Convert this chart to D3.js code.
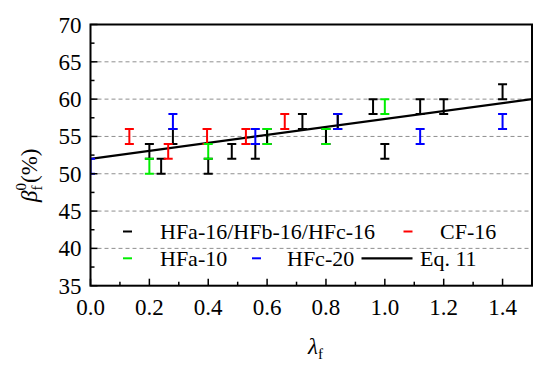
<!DOCTYPE html>
<html>
<head>
<meta charset="utf-8">
<script src="https://cdn.jsdelivr.net/npm/d3@7/dist/d3.min.js"></script>
<style>
  html, body { margin: 0; padding: 0; background: #fff; }
  svg { display: block; }
</style>
</head>
<body>
<svg id="chart" width="550" height="368"></svg>
<script>
// ---------- data ----------
const xTicks = [0.0, 0.2, 0.4, 0.6, 0.8, 1.0, 1.2, 1.4];
const xTickLabels = ["0.0", "0.2", "0.4", "0.6", "0.8", "1.0", "1.2", "1.4"];
const yTicks = [35, 40, 45, 50, 55, 60, 65, 70];
const yTickLabels = ["35", "40", "45", "50", "55", "60", "65", "70"];
const gridValues = [40, 45, 50, 55, 60, 65];

// HFa-16/HFb-16/HFc-16 (black)
const blackX    = [0.2, 0.24, 0.28, 0.4, 0.48, 0.56, 0.6, 0.72, 0.8, 0.84, 0.96, 1.0, 1.12, 1.2, 1.4];
const blackLow  = [52,  50,   54,   50,  52,   52,   54,  56,   54,  56,   58,   52,  58,   58,  60];
const blackHigh = [54,  52,   56,   52,  54,   54,   56,  58,   56,  58,   60,   54,  60,   60,  62];
// CF-16 (red)
const redX    = [0.132, 0.264, 0.396, 0.528, 0.66];
const redLow  = [54, 52, 54, 54, 56];
const redHigh = [56, 54, 56, 56, 58];
// HFa-10 (green)
const greenX    = [0.2, 0.4, 0.6, 0.8, 1.0];
const greenLow  = [50, 52, 54, 54, 58];
const greenHigh = [52, 54, 56, 56, 60];
// HFc-20 (blue)
const blueX    = [0.0, 0.28, 0.56, 0.84, 1.12, 1.4];
const blueLow  = [50, 56, 54, 56, 54, 56];
const blueHigh = [52, 58, 56, 58, 56, 58];
// Eq. 11 line
const eqX = [0.0, 1.5];
const eqY = [52.0, 60.0];

const seriesNames = ["HFa-16/HFb-16/HFc-16", "CF-16", "HFa-10", "HFc-20", "Eq. 11"];

// ---------- chart ----------
const FONT = "'Liberation Serif', 'Times New Roman', Times, 'DejaVu Serif', serif";
const svg = d3.select("#chart").attr("font-family", FONT);
const L = 90.5, R = 532, T = 24.5, B = 285.7;
const x = d3.scaleLinear().domain([0, 1.5]).range([L, R]);
const y = d3.scaleLinear().domain([35, 70]).range([B, T]);

const colorOf = { black: "#000000", red: "#ff0000", green: "#00ee00", blue: "#0000ff" };

function toRows(xs, lo, hi) { return xs.map((v, i) => ({ x: v, lo: lo[i], hi: hi[i] })); }
const black = toRows(blackX, blackLow, blackHigh);
const red = toRows(redX, redLow, redHigh);
const green = toRows(greenX, greenLow, greenHigh);
const blue = toRows(blueX, blueLow, blueHigh);

svg.append("defs").append("clipPath").attr("id", "clip")
  .append("rect").attr("x", L).attr("y", T - 2).attr("width", R - L).attr("height", B - T + 4);

// grid
svg.append("g").selectAll("line").data(gridValues).join("line")
  .attr("x1", L).attr("x2", R)
  .attr("y1", d => y(d)).attr("y2", d => y(d))
  .attr("stroke", "#8f8f8f").attr("stroke-width", 1).attr("stroke-dasharray", "4,3");

const plot = svg.append("g").attr("clip-path", "url(#clip)");

// regression line
plot.append("line")
  .attr("x1", x(eqX[0])).attr("y1", y(eqY[0]))
  .attr("x2", x(eqX[1])).attr("y2", y(eqY[1]))
  .attr("stroke", "#000").attr("stroke-width", 2.2);

const capW = 9;
function stems(data, col) {
  plot.append("g").selectAll("line").data(data).join("line")
    .attr("x1", d => x(d.x)).attr("x2", d => x(d.x))
    .attr("y1", d => y(d.lo)).attr("y2", d => y(d.hi))
    .attr("stroke", col).attr("stroke-width", 2);
}
function caps(data, col) {
  const g = plot.append("g");
  ["lo", "hi"].forEach(k => {
    g.append("g").selectAll("line").data(data).join("line")
      .attr("x1", d => x(d.x) - capW / 2).attr("x2", d => x(d.x) + capW / 2)
      .attr("y1", d => y(d[k])).attr("y2", d => y(d[k]))
      .attr("stroke", col).attr("stroke-width", 2);
  });
}
stems(red, colorOf.red);
stems(green, colorOf.green);
stems(blue, colorOf.blue);
stems(black, colorOf.black);
caps(black, colorOf.black);
caps(red, colorOf.red);
caps(green, colorOf.green);
caps(blue, colorOf.blue);

// axes
const axG = svg.append("g");
const xMinor = d3.range(0.1, 1.5, 0.2);
axG.append("g").selectAll("line").data(xMinor).join("line")
  .attr("x1", d => x(d)).attr("x2", d => x(d)).attr("y1", B).attr("y2", B - 4)
  .attr("stroke", "#000").attr("stroke-width", 1.5);
axG.append("g").selectAll("line").data(xTicks).join("line")
  .attr("x1", d => x(d)).attr("x2", d => x(d)).attr("y1", B).attr("y2", B - 7)
  .attr("stroke", "#000").attr("stroke-width", 1.5);
const yMinor = d3.range(37.5, 70, 5);
axG.append("g").selectAll("line").data(yMinor).join("line")
  .attr("x1", L).attr("x2", L + 4).attr("y1", d => y(d)).attr("y2", d => y(d))
  .attr("stroke", "#000").attr("stroke-width", 1.5);
axG.append("g").selectAll("line").data(yTicks).join("line")
  .attr("x1", L).attr("x2", L + 7).attr("y1", d => y(d)).attr("y2", d => y(d))
  .attr("stroke", "#000").attr("stroke-width", 1.5);

// frame
svg.append("rect").attr("x", L).attr("y", T).attr("width", R - L).attr("height", B - T)
  .attr("fill", "none").attr("stroke", "#000").attr("stroke-width", 2);

// tick labels
svg.append("g").selectAll("text").data(xTicks).join("text")
  .attr("x", d => x(d)).attr("y", B + 29)
  .attr("text-anchor", "middle").attr("font-size", 23)
  .text((d, i) => xTickLabels[i]);
svg.append("g").selectAll("text").data(yTicks).join("text")
  .attr("x", L - 9).attr("y", d => y(d) + 8)
  .attr("text-anchor", "end").attr("font-size", 23)
  .text((d, i) => yTickLabels[i]);

// axis titles
const xt = svg.append("text").attr("x", 308).attr("y", 354).attr("font-size", 23);
xt.append("tspan").attr("font-style", "italic").text("λ");
xt.append("tspan").attr("font-size", 15).attr("dy", 5).text("f");

const yt = svg.append("text").attr("transform", "translate(37,202) rotate(-90)")
  .attr("font-size", 23);
yt.append("tspan").attr("font-style", "italic").text("β");
yt.append("tspan").attr("font-size", 15).attr("dy", 5).text("f");
yt.append("tspan").attr("font-size", 15).attr("dx", -5).attr("dy", -16).text("0");
yt.append("tspan").attr("dy", 11).text("(%)");

// legend
const legendItems = [
  { name: seriesNames[0], col: colorOf.black, sx: 127.5, tx: 160, y: 231.5, type: "bar" },
  { name: seriesNames[1], col: colorOf.red, sx: 408, tx: 440, y: 231.5, type: "bar" },
  { name: seriesNames[2], col: colorOf.green, sx: 127.5, tx: 160, y: 258.3, type: "bar" },
  { name: seriesNames[3], col: colorOf.blue, sx: 256.5, tx: 287, y: 258.3, type: "bar" },
  { name: seriesNames[4], col: "#000", sx: 387, tx: 420, y: 258.3, type: "line" }
];
const lg = svg.append("g");
legendItems.forEach(it => {
  const w = it.type === "line" ? 51 : 9;
  lg.append("line").attr("x1", it.sx - w / 2).attr("x2", it.sx + w / 2)
    .attr("y1", it.y).attr("y2", it.y)
    .attr("stroke", it.col).attr("stroke-width", it.type === "line" ? 2.2 : 2);
  lg.append("text").attr("x", it.tx).attr("y", it.y + 7.5)
    .attr("font-size", 22).text(it.name);
});
</script>
</body>
</html>
